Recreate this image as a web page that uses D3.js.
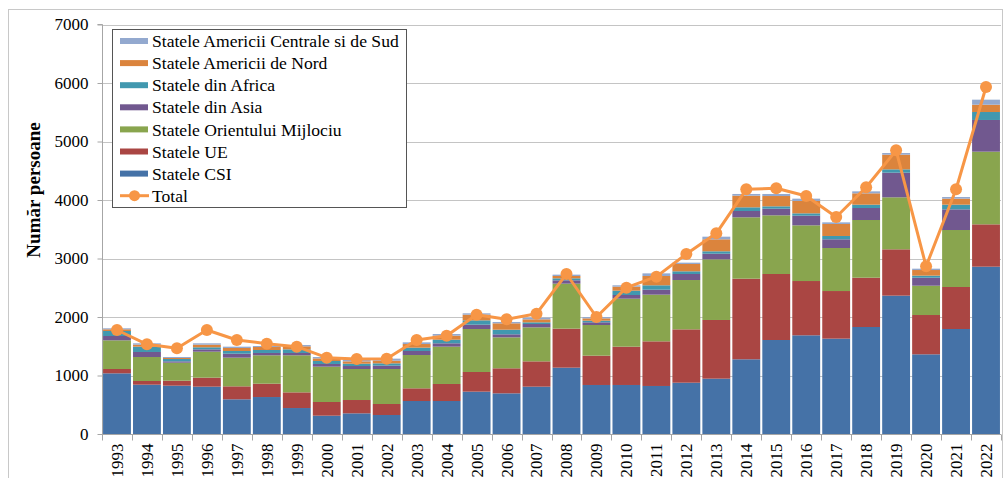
<!DOCTYPE html>
<html>
<head>
<meta charset="utf-8">
<script src="https://cdn.jsdelivr.net/npm/d3@7"></script>
<style>
  html, body { margin: 0; padding: 0; background: #fff; }
  svg { display: block; }
  text { font-family: "Liberation Serif", "Times New Roman", serif; fill: #000; }
</style>
</head>
<body>
<svg id="chart" width="1006" height="478"></svg>
<script>
const years = ["1993","1994","1995","1996","1997","1998","1999","2000","2001","2002","2003","2004","2005","2006","2007","2008","2009","2010","2011","2012","2013","2014","2015","2016","2017","2018","2019","2020","2021","2022"];
const csi    = [1037, 843, 826, 809, 593, 632, 444, 313, 353, 325, 564, 564, 724, 695, 809,1134, 838, 838, 821, 877, 946,1277,1607,1687,1630,1829,2365,1362,1795,2860];
const ue     = [  74,  63,  85, 154, 222, 228, 268, 234, 228, 188, 217, 291, 336, 428, 433, 667, 501, 655, 763, 912,1003,1378,1128, 928, 814, 843, 792, 672, 718, 724];
const orient = [ 490, 410, 308, 444, 490, 485, 633, 604, 530, 598, 569, 638, 735, 529, 581, 769, 524, 820, 798, 843,1037,1049,1003, 952, 735, 986, 889, 501, 974,1242];
const asia   = [  74,  86,  23,  40,  68,  40,  40,  46,  51,  57,  69,  57,  74,  52,  57,  57,  46,  63,  85, 103,  96, 108, 114, 165, 149, 205, 421, 137, 353, 542];
const africa = [  86,  91,  40,  35,  46,  51,  62,  51,  40,  40,  57,  62,  74,  79,  29,  34,  28,  74,  75,  46,  41,  63,  40,  40,  57,  57,  57,  35,  80, 136];
const nord   = [  29,  34,  17,  45,  51,  51,  52,  45,  40,  45,  62,  69,  97, 109,  51,  40,  40,  69, 159, 125, 205, 199, 176, 211, 205, 194, 251,  96, 103, 125];
const centSud= [  17,  23,  17,  23,  23,  17,  22,  23,  23,  35,  29,  28,  23,  23,  29,  23,  23,  23,  45,  23,  45,  29,  35,  40,  28,  34,  28,  23,  28,  86];
const total  = [1778,1533,1465,1778,1607,1544,1493,1305,1282,1288,1607,1681,2040,1960,2057,2735,2000,2501,2690,3077,3430,4183,4200,4068,3709,4217,4849,2866,4183,5932];
const yTicks = [0, 1000, 2000, 3000, 4000, 5000, 6000, 7000];

const seriesKeys   = ["csi","ue","orient","asia","africa","nord","centSud"];
const seriesNames  = ["Statele CSI","Statele UE","Statele Orientului Mijlociu","Statele din Asia","Statele din Africa","Statele Americii de Nord","Statele Americii Centrale si de Sud"];
const seriesColors = ["#4572A7","#AA4643","#89A54E","#71588F","#4198AF","#DB843D","#93A9CF"];
const totalName = "Total";
const totalColor = "#F79646";

const rows = years.map((y, i) => ({
  year: y, csi: csi[i], ue: ue[i], orient: orient[i], asia: asia[i],
  africa: africa[i], nord: nord[i], centSud: centSud[i], total: total[i]
}));

const svg = d3.select("#chart");
const W = 1006, H = 478;

// outer frame
svg.append("rect").attr("x", 8.5).attr("y", 9.5).attr("width", W - 12).attr("height", H - 6)
  .attr("fill", "none").attr("stroke", "#c8c8c8").attr("stroke-width", 1);

const margin = { left: 102, right: 5, top: 25, bottom: 44 };
const x = d3.scaleBand().domain(years).range([margin.left, 1001]).paddingInner(0.07).paddingOuter(0.035);
const y = d3.scaleLinear().domain([0, 7000]).range([434, 24.5]);

// gridlines
svg.append("g").selectAll("line").data(yTicks.slice(1)).join("line")
  .attr("x1", margin.left).attr("x2", 1001)
  .attr("y1", d => Math.round(y(d)) + 0.5).attr("y2", d => Math.round(y(d)) + 0.5)
  .attr("stroke", "#c4c4c4").attr("stroke-width", 1);

// stacked bars
const stack = d3.stack().keys(seriesKeys)(rows);
svg.append("g").selectAll("g").data(stack).join("g")
  .attr("fill", (d, i) => seriesColors[i])
  .selectAll("rect").data(d => d).join("rect")
  .attr("x", d => x(d.data.year))
  .attr("width", x.bandwidth())
  .attr("y", d => y(d[1]))
  .attr("height", d => y(d[0]) - y(d[1]));

// y axis
const yAxis = d3.axisLeft(y).tickValues(yTicks).tickSize(5).tickPadding(9).tickFormat(d3.format("d"));
const gy = svg.append("g").attr("transform", `translate(${margin.left + 0.5},0)`).call(yAxis);
gy.select(".domain").attr("stroke", "#a6a6a6").attr("d", `M-5,${y(7000)}H0V${y(0)}`);
gy.selectAll(".tick line").attr("stroke", "#a6a6a6");
gy.selectAll(".tick text").style("font-size", "17px").style("font-family", "Liberation Serif, serif").attr("fill", "#000");

// x axis
const xAxis = d3.axisBottom(x).tickSize(0).tickPadding(0);
const gx = svg.append("g").attr("transform", `translate(0,${434.5})`).call(xAxis);
gx.select(".domain").attr("stroke", "#a6a6a6").attr("d", `M${margin.left},0H1001`);
gx.selectAll(".tick text")
  .style("font-size", "17px").style("font-family", "Liberation Serif, serif").attr("fill", "#000")
  .attr("transform", "rotate(-90)")
  .attr("text-anchor", "end")
  .attr("x", -9).attr("y", 0).attr("dy", "0.35em");
// band boundary ticks
const bounds = years.map(yv => x(yv) - x.step() * x.paddingInner() / 2);
bounds.push(1001);
gx.append("g").selectAll("line").data(bounds).join("line")
  .attr("x1", d => Math.round(d) + 0.5).attr("x2", d => Math.round(d) + 0.5)
  .attr("y1", 0).attr("y2", 6).attr("stroke", "#a6a6a6");

// total line
const line = d3.line().x(d => x(d.year) + x.bandwidth() / 2).y(d => y(d.total));
svg.append("path").datum(rows).attr("d", line)
  .attr("fill", "none").attr("stroke", totalColor).attr("stroke-width", 3).attr("stroke-linejoin", "round");
svg.append("g").selectAll("circle").data(rows).join("circle")
  .attr("cx", d => x(d.year) + x.bandwidth() / 2).attr("cy", d => y(d.total))
  .attr("r", 6).attr("fill", totalColor);

// y title
svg.append("text")
  .attr("transform", "translate(40,190) rotate(-90)")
  .attr("text-anchor", "middle")
  .style("font-size", "19px").style("font-weight", "bold")
  .text("Număr persoane");

// legend
const legend = svg.append("g");
legend.append("rect").attr("x", 112.5).attr("y", 29.5).attr("width", 294).attr("height", 178)
  .attr("fill", "#fff").attr("stroke", "#555").attr("stroke-width", 1);
const legItems = seriesNames.map((n, i) => ({ name: n, color: seriesColors[i] })).reverse();
legItems.push({ name: totalName, color: totalColor, isLine: true });
const lg = legend.selectAll("g").data(legItems).join("g")
  .attr("transform", (d, i) => `translate(0,${41 + i * 22.1})`);
lg.filter(d => !d.isLine).append("rect")
  .attr("x", 120).attr("y", -3).attr("width", 28).attr("height", 6).attr("fill", d => d.color);
lg.filter(d => d.isLine).append("line")
  .attr("x1", 120).attr("x2", 149).attr("y1", 0).attr("y2", 0)
  .attr("stroke", d => d.color).attr("stroke-width", 3);
lg.filter(d => d.isLine).append("circle")
  .attr("cx", 134.5).attr("cy", 0).attr("r", 5.5).attr("fill", d => d.color);
lg.append("text").attr("x", 152).attr("y", 0).attr("dy", "0.35em")
  .style("font-size", "17.6px").text(d => d.name);
</script>
</body>
</html>
